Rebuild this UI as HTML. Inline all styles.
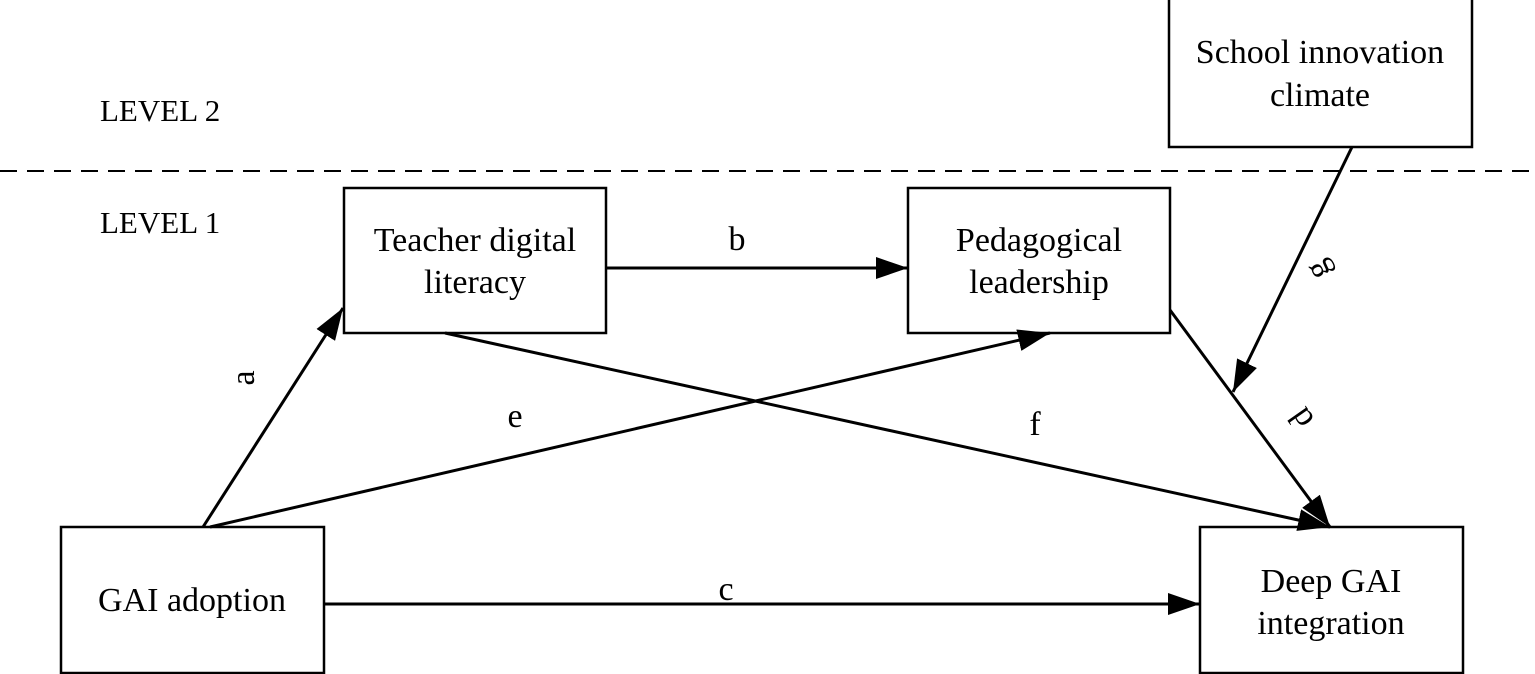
<!DOCTYPE html>
<html><head><style>body{margin:0;background:#fff}svg{display:block}</style></head><body>
<svg width="1535" height="674" viewBox="0 0 1535 674" xmlns="http://www.w3.org/2000/svg" font-family="Liberation Serif, serif" font-size="34">
<defs>
<marker id="a2" viewBox="0 0 32 22" refX="32" refY="11" markerWidth="32" markerHeight="22" orient="auto" markerUnits="userSpaceOnUse"><path d="M0,0 L32,11 L0,22z" fill="#000"/></marker></defs>
<line x1="0" y1="171" x2="1535" y2="171" stroke="#000" stroke-width="2" stroke-dasharray="17,10"/>
<g fill="#fff" stroke="#000" stroke-width="2.5">
<rect x="1169" y="-2" width="303" height="149"/>
<rect x="344" y="188" width="262" height="145"/>
<rect x="908" y="188" width="262" height="145"/>
<rect x="61" y="527" width="263" height="146"/>
<rect x="1200" y="527" width="263" height="146"/>
</g>
<g stroke="#000" stroke-width="3" fill="none" marker-end="url(#a2)">
<line x1="607" y1="268" x2="908" y2="268"/>
<line x1="203" y1="527" x2="343" y2="308"/>
<line x1="210" y1="527" x2="1050" y2="333"/>
<line x1="445" y1="333" x2="1330" y2="527"/>
<line x1="1170" y1="310" x2="1330" y2="527"/>
<line x1="1352" y1="147" x2="1233" y2="392"/>
<line x1="324" y1="604" x2="1200" y2="604"/>
</g>
<g text-anchor="middle">
<text x="1320" y="63">School innovation</text><text x="1320" y="106">climate</text>
<text x="475" y="251">Teacher digital</text><text x="475" y="293">literacy</text>
<text x="1039" y="251">Pedagogical</text><text x="1039" y="293">leadership</text>
<text x="192" y="611">GAI adoption</text>
<text x="1331" y="592">Deep GAI</text><text x="1331" y="634">integration</text>
<text x="737" y="250">b</text><text x="515" y="427">e</text><text x="1035" y="435">f</text><text x="726" y="600">c</text>
<text transform="translate(244,378) rotate(-90)" y="10">a</text>
<text transform="translate(1302,418) rotate(-125)" y="10">d</text>
<text transform="translate(1318,270) rotate(-115)" y="10">g</text>
</g>
<g font-size="31"><text x="100" y="121">LEVEL 2</text>
<text x="100" y="233">LEVEL 1</text></g>
</svg>
</body></html>
